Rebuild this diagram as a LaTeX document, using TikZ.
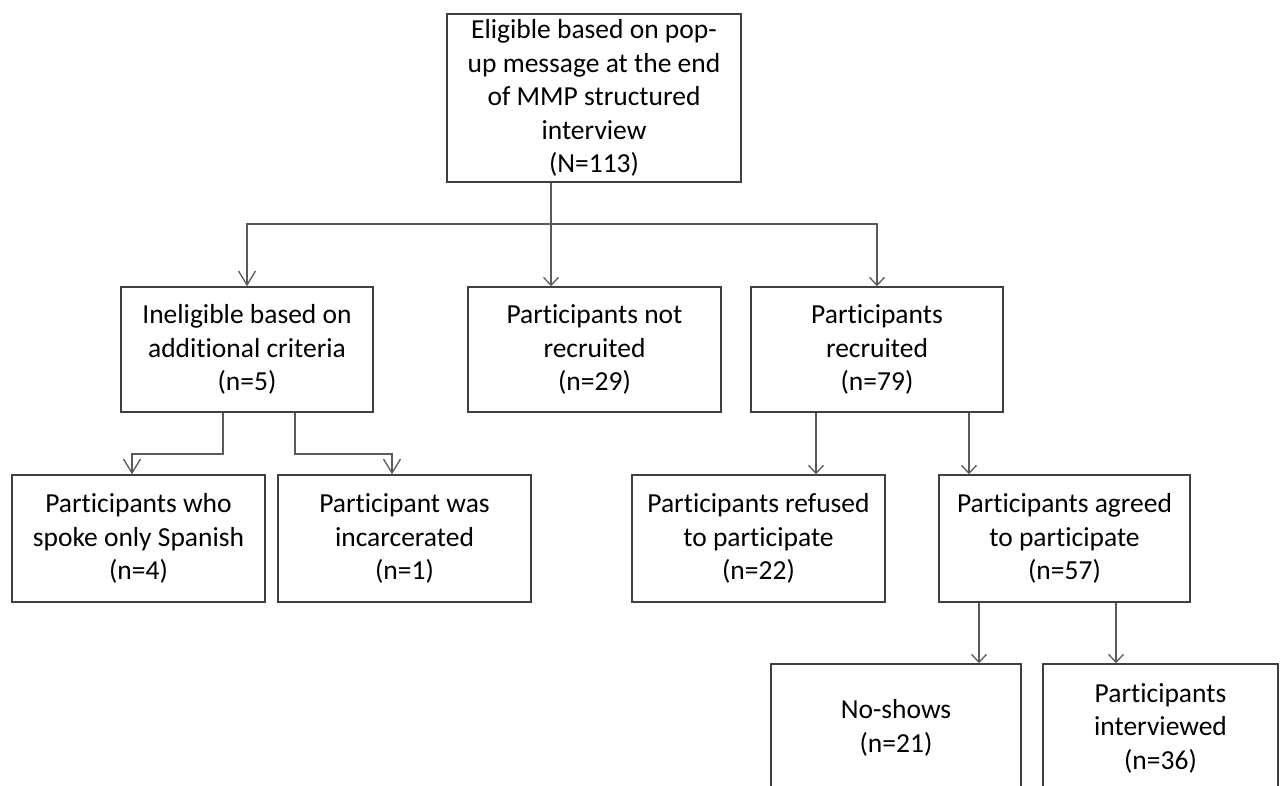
\documentclass[tikz,border=0pt]{standalone}
\usepackage{fontspec}
\setmainfont{Carlito}[Ligatures=NoCommon]
\usetikzlibrary{arrows.meta}
\definecolor{boxc}{HTML}{3F3F3F}
\definecolor{linec}{HTML}{5A5A5A}
\tikzset{
  box/.style={draw=boxc, line width=1.5pt, rectangle, inner sep=0pt, align=center,
    font=\fontsize{27.5}{33.5}\selectfont, text=black},
  conn/.style={draw=linec, line width=1.4pt},
  tiplong/.style={conn, -{Straight Barb[length=14pt,width=17pt,line width=1.3pt]}},
  tipshort/.style={conn, -{Straight Barb[length=8pt,width=15pt,line width=1.3pt]}},
}
\begin{document}
\begin{tikzpicture}[x=1pt,y=-1pt]
\clip (0,0) rectangle (1280,785);
\fill[white] (0,0) rectangle (1280,785);

\node[box, minimum width=294pt, minimum height=168pt] (top) at (594,98)
  {Eligible based on pop-\\up message at the end\\of MMP structured\\interview\\(N=113)};

\node[box, minimum width=252pt, minimum height=125pt] (inel) at (247,349.5)
  {Ineligible based on\\additional criteria\\(n=5)};
\node[box, minimum width=253pt, minimum height=125pt] (notrec) at (594.5,349.5)
  {Participants not\\recruited\\(n=29)};
\node[box, minimum width=252pt, minimum height=125pt] (rec) at (877,349.5)
  {Participants\\recruited\\(n=79)};

\node[box, minimum width=253pt, minimum height=127pt] (span) at (138.5,538.5)
  {Participants who\\spoke only Spanish\\(n=4)};
\node[box, minimum width=253pt, minimum height=127pt] (inc) at (404.5,538.5)
  {Participant was\\incarcerated\\(n=1)};
\node[box, minimum width=253pt, minimum height=127pt] (ref) at (758.5,538.5)
  {Participants refused\\to participate\\(n=22)};
\node[box, minimum width=251pt, minimum height=127pt] (agr) at (1064.5,538.5)
  {Participants agreed\\to participate\\(n=57)};

\node[box, minimum width=250pt, minimum height=128pt] (noshow) at (896,728)
  {No-shows\\(n=21)};
\node[box, minimum width=235pt, minimum height=128pt] (intv) at (1160.5,728)
  {Participants\\interviewed\\(n=36)};

% junctions
\coordinate (j0) at (551,224);
\coordinate (a1) at (223,454);
\coordinate (a2) at (295,454);
\coordinate (b1) at (132,0);
\coordinate (b2) at (392,0);
\coordinate (r1) at (816,0);
\coordinate (r2) at (969,0);
\coordinate (g1) at (979,0);
\coordinate (g2) at (1116,0);

\draw[conn] (top.south -| j0) -- (j0);
\draw[tiplong] (j0) -| (inel.north);
\draw[tipshort] (j0) -- (notrec.north -| j0);
\draw[tipshort] (j0) -| (rec.north);

\draw[tiplong] (inel.south -| a1) -- (a1) -| (span.north -| b1);
\draw[tiplong] (inel.south -| a2) -- (a2) -| (inc.north -| b2);

\draw[tipshort] (rec.south -| r1) -- (ref.north -| r1);
\draw[tipshort] (rec.south -| r2) -- (agr.north -| r2);

\draw[tipshort] (agr.south -| g1) -- (noshow.north -| g1);
\draw[tipshort] (agr.south -| g2) -- (intv.north -| g2);
\end{tikzpicture}
\end{document}
